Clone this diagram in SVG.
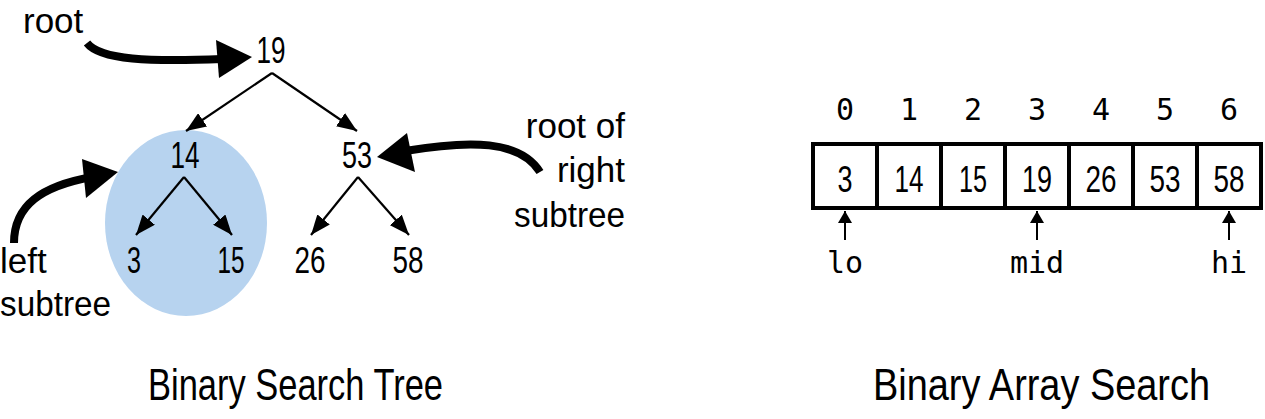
<svg xmlns="http://www.w3.org/2000/svg" width="1265" height="419" viewBox="0 0 1265 419">
<style>
.lbl{font-family:"Liberation Sans",Arial,sans-serif;font-size:35px;fill:#000}
.num{font-family:"Liberation Sans",Arial,sans-serif;font-size:36px;fill:#000;text-anchor:middle}
.mono{font-family:"DejaVu Sans Mono","Liberation Mono",monospace;font-size:30px;fill:#000;text-anchor:middle}
.title{font-family:"Liberation Sans",Arial,sans-serif;font-size:44px;fill:#000}
.edge{stroke:#000;stroke-width:2.2;fill:none;marker-end:url(#ah)}
.thick{stroke:#000;stroke-width:8;fill:none}
.cell{fill:#fff;stroke:#000;stroke-width:4}
.ptr{stroke:#000;stroke-width:2;fill:none;marker-end:url(#sah)}
</style>
<defs>
<marker id="ah" viewBox="0 0 20 16" refX="20" refY="8" markerWidth="20" markerHeight="16" markerUnits="userSpaceOnUse" orient="auto">
<path d="M0,0 L20,8 L0,16 Z" fill="#000"/>
</marker>
<marker id="sah" viewBox="0 0 12 14" refX="12" refY="7" markerWidth="12" markerHeight="14" markerUnits="userSpaceOnUse" orient="auto">
<path d="M0,0 L12,7 L0,14 Z" fill="#000"/>
</marker>
</defs>
<rect width="1265" height="419" fill="#fff"/>
<ellipse id="left-subtree-highlight" cx="186" cy="223" rx="81" ry="93" fill="#b7d3ef"/>
<g id="connectors">
<line class="edge" x1="272" y1="73" x2="186" y2="131"/>
<line class="edge" x1="272" y1="73" x2="357" y2="131"/>
<line class="edge" x1="184" y1="177" x2="136" y2="235"/>
<line class="edge" x1="184" y1="177" x2="232" y2="235"/>
<line class="edge" x1="358" y1="177" x2="311" y2="235"/>
<line class="edge" x1="358" y1="177" x2="409" y2="235"/>
<path class="thick" d="M87 43 C100 60 150 62 222 59"/>
<polygon points="252,57 216,40 219,78" fill="#000"/>
<path class="thick" d="M14 243 C14 205 42 186 92 177"/>
<polygon points="118,172 82,159 86,198" fill="#000"/>
<path class="thick" d="M540 172 C520 140 470 140 405 151"/>
<polygon points="377,157 407,133 415,172" fill="#000"/>
<line class="ptr" x1="845" y1="240" x2="845" y2="211"/>
<line class="ptr" x1="1037" y1="240" x2="1037" y2="211"/>
<line class="ptr" x1="1229" y1="240" x2="1229" y2="211"/>
</g>
<g id="node-19"><text class="num" x="271" y="63" textLength="29" lengthAdjust="spacingAndGlyphs">19</text></g>
<g id="node-14"><text class="num" x="185" y="168" textLength="29" lengthAdjust="spacingAndGlyphs">14</text></g>
<g id="node-53"><text class="num" x="357" y="168" textLength="30" lengthAdjust="spacingAndGlyphs">53</text></g>
<g id="node-3"><text class="num" x="134" y="273" textLength="14" lengthAdjust="spacingAndGlyphs">3</text></g>
<g id="node-15"><text class="num" x="231" y="273" textLength="27" lengthAdjust="spacingAndGlyphs">15</text></g>
<g id="node-26"><text class="num" x="310" y="273" textLength="31" lengthAdjust="spacingAndGlyphs">26</text></g>
<g id="node-58"><text class="num" x="408" y="273" textLength="31" lengthAdjust="spacingAndGlyphs">58</text></g>
<g id="label-root"><text class="lbl" x="23" y="33">root</text></g>
<g id="label-left-subtree"><text class="lbl" x="0" y="273">left</text><text class="lbl" x="0" y="316" textLength="111" lengthAdjust="spacingAndGlyphs">subtree</text></g>
<g id="label-right-subtree" text-anchor="end"><text class="lbl" x="625" y="138" text-anchor="end">root of</text><text class="lbl" x="625" y="182" text-anchor="end">right</text><text class="lbl" x="625" y="227" text-anchor="end" textLength="111" lengthAdjust="spacingAndGlyphs">subtree</text></g>
<g id="array">
<rect class="cell" x="813" y="144" width="64" height="64"/>
<rect class="cell" x="877" y="144" width="64" height="64"/>
<rect class="cell" x="941" y="144" width="64" height="64"/>
<rect class="cell" x="1005" y="144" width="64" height="64"/>
<rect class="cell" x="1069" y="144" width="64" height="64"/>
<rect class="cell" x="1133" y="144" width="64" height="64"/>
<rect class="cell" x="1197" y="144" width="64" height="64"/>
<text class="num" x="845" y="192" textLength="15" lengthAdjust="spacingAndGlyphs">3</text>
<text class="num" x="909" y="192" textLength="29" lengthAdjust="spacingAndGlyphs">14</text>
<text class="num" x="973" y="192" textLength="28" lengthAdjust="spacingAndGlyphs">15</text>
<text class="num" x="1037" y="192" textLength="30" lengthAdjust="spacingAndGlyphs">19</text>
<text class="num" x="1101" y="192" textLength="31" lengthAdjust="spacingAndGlyphs">26</text>
<text class="num" x="1165" y="192" textLength="31" lengthAdjust="spacingAndGlyphs">53</text>
<text class="num" x="1229" y="192" textLength="31" lengthAdjust="spacingAndGlyphs">58</text>
</g>
<g id="indices">
<text class="mono" x="845" y="120">0</text>
<text class="mono" x="909" y="120">1</text>
<text class="mono" x="973" y="120">2</text>
<text class="mono" x="1037" y="120">3</text>
<text class="mono" x="1101" y="120">4</text>
<text class="mono" x="1165" y="120">5</text>
<text class="mono" x="1229" y="120">6</text>
</g>
<g id="pointer-lo"><text class="mono" x="845" y="273">lo</text></g>
<g id="pointer-mid"><text class="mono" x="1037" y="273">mid</text></g>
<g id="pointer-hi"><text class="mono" x="1229" y="273">hi</text></g>
<g id="title-bst"><text class="title" x="148" y="400" textLength="295" lengthAdjust="spacingAndGlyphs">Binary Search Tree</text></g>
<g id="title-bas"><text class="title" x="873" y="400" textLength="337" lengthAdjust="spacingAndGlyphs">Binary Array Search</text></g>
</svg>
